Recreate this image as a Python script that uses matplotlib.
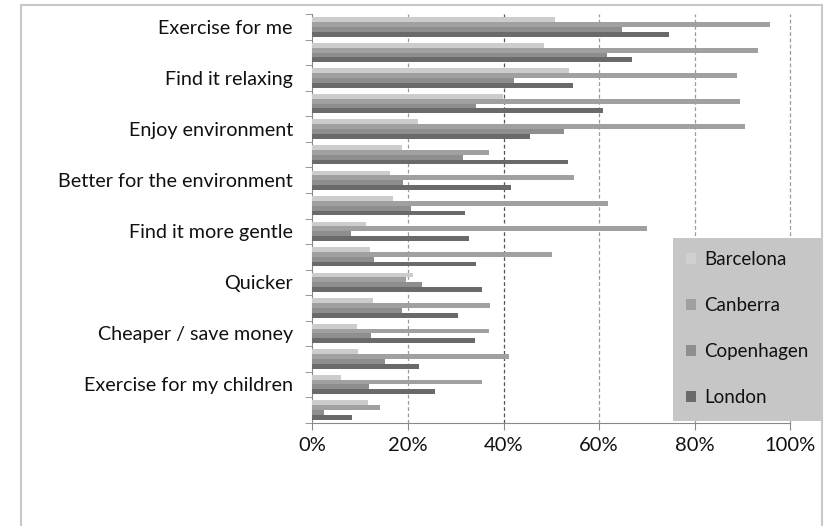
import matplotlib
matplotlib.use("Agg")
import matplotlib.pyplot as plt
from matplotlib.patches import Rectangle, Patch
from matplotlib.ticker import FuncFormatter
import numpy as np

categories = ["Exercise for me", "", "Find it relaxing", "", "Enjoy environment", "",
              "Better for the environment", "", "Find it more gentle", "", "Quicker", "",
              "Cheaper / save money", "", "Exercise for my children", ""]
series_names = ["Barcelona", "Canberra", "Copenhagen", "London"]
barcelona = [50.7, 48.5, 53.8, 39.8, 22.2, 18.8, 16.2, 16.9, 11.2, 12.1, 21.1, 12.8, 9.3, 9.6, 5.9, 11.6]
canberra = [95.7, 93.2, 88.8, 89.5, 90.5, 37.0, 54.7, 61.8, 70.0, 50.2, 19.6, 37.2, 37.0, 41.1, 35.6, 14.2]
copenhagen = [64.8, 61.6, 42.1, 34.2, 52.6, 31.5, 19.0, 20.6, 8.0, 12.9, 23.0, 18.7, 12.2, 15.3, 11.8, 2.5]
london = [74.7, 66.9, 54.5, 60.8, 45.6, 53.5, 41.6, 32.0, 32.8, 34.2, 35.5, 30.5, 34.1, 22.3, 25.6, 8.4]
x_ticks = [0, 20, 40, 60, 80, 100]

colors = ["#cccccc", "#a0a0a0", "#8e8e8e", "#6a6a6a"]
series = [barcelona, canberra, copenhagen, london]

FONT = "Lato"
W, H = 827, 526
fig = plt.figure(figsize=(W / 100, H / 100), dpi=100)
fig.patch.set_facecolor("white")

# outer frame
fig.add_artist(Rectangle((20.5 / W, -0.01), (822 - 20.5) / W, (526 - 5) / H + 0.01,
                         transform=fig.transFigure, fill=False, edgecolor="#c8c8c8", lw=1.5))

ax = fig.add_axes([312.3 / W, (526 - 422.7) / H, (790.3 - 312.3) / W, (422.7 - 14.3) / H])
n = len(categories)
ypos = np.arange(n)
h = 0.19
for k, (vals, c) in enumerate(zip(series, colors)):
    ax.barh(ypos - 1.5 * h + k * h, vals, height=h, color=c, label=series_names[k], zorder=3)

ax.set_ylim(n - 0.5, -0.5)
ax.set_xlim(0, 100)

ax.set_yticks(ypos)
ax.set_yticklabels(categories, fontsize=14.2, family=FONT, color="#111111")
ax.tick_params(axis="y", which="major", length=0, pad=14)
ax.set_yticks(np.arange(n + 1) - 0.5, minor=True)
ax.tick_params(axis="y", which="minor", length=5, color="#888888", direction="out")

ax.set_xticks(x_ticks)
ax.xaxis.set_major_formatter(FuncFormatter(lambda v, p: f"{int(v)}%"))
ax.tick_params(axis="x", length=5, color="#888888", direction="out", pad=5,
               labelsize=14.5, labelcolor="#111111")
for lbl in ax.get_xticklabels():
    lbl.set_family(FONT)

for v in x_ticks[1:]:
    col = "#555555" if v == 40 else "#9a9a9a"
    ax.axvline(v, color=col, lw=0.9, ls=(0, (3, 2)), zorder=1, clip_on=False)

for s in ["top", "right"]:
    ax.spines[s].set_visible(False)
ax.spines["left"].set_color("#888888")
ax.spines["bottom"].set_color("#888888")

# legend box
lx0, lx1, ly0, ly1 = 673, 822, 238, 420.5
fig.add_artist(Rectangle((lx0 / W, (H - ly1) / H), (lx1 - lx0) / W, (ly1 - ly0) / H,
                         transform=fig.transFigure, facecolor="#c6c6c6", edgecolor="none", zorder=5))
handles = [Patch(facecolor=c, edgecolor="none") for c in ["#d0d0d0"] + colors[1:]]
leg = fig.legend(handles, series_names, loc="upper left",
                 bbox_to_anchor=(686 / W, (H - 251) / H), frameon=False, borderpad=0,
                 borderaxespad=0,
                 prop={"family": FONT, "size": 13.5}, handlelength=0.55, handleheight=0.55,
                 handletextpad=0.4, labelspacing=1.55)
leg.set_zorder(6)
for t in leg.get_texts():
    t.set_color("#111111")

fig.savefig("out.png", dpi=100, facecolor="white")
